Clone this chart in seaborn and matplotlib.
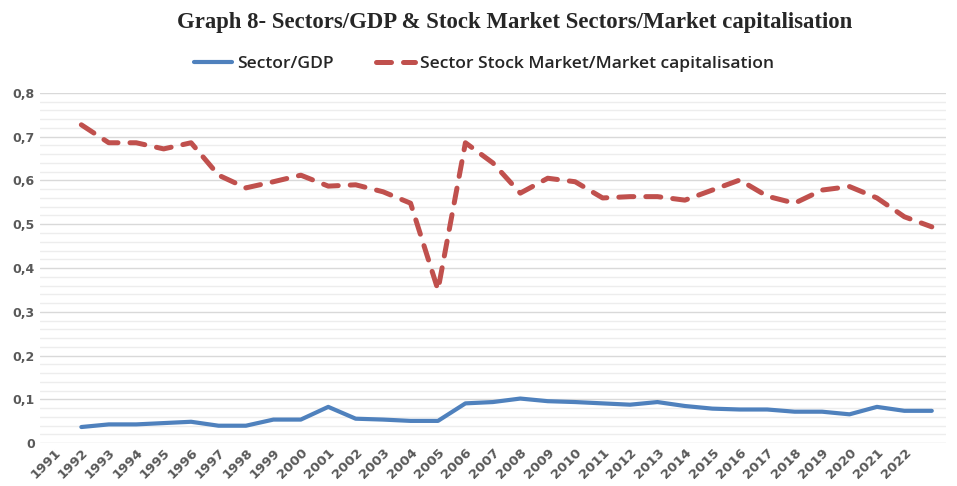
import seaborn as sns
import pandas as pd
import matplotlib.pyplot as plt
from matplotlib.ticker import MultipleLocator, FuncFormatter

# Axis labels (Excel category axis runs 1991-2022, data sits on 1992-2023)
tick_years = list(range(1991, 2023))
data_years = list(range(1992, 2024))

# Values
sector_gdp = [0.037, 0.043, 0.043, 0.046, 0.049, 0.040, 0.040, 0.054, 0.054, 0.083,
              0.056, 0.054, 0.051, 0.051, 0.091, 0.094, 0.102, 0.096, 0.094, 0.091,
              0.088, 0.094, 0.085, 0.079, 0.077, 0.077, 0.072, 0.072, 0.066, 0.083,
              0.074, 0.074]
stock_market = [0.727, 0.686, 0.686, 0.672, 0.686, 0.612, 0.583, 0.597, 0.612, 0.587,
                0.590, 0.574, 0.548, 0.350, 0.686, 0.640, 0.571, 0.605, 0.597, 0.560,
                0.563, 0.563, 0.555, 0.578, 0.601, 0.564, 0.548, 0.578, 0.586, 0.560,
                0.517, 0.494]


def main():
    df = pd.DataFrame({'year': data_years, 'Sector/GDP': sector_gdp,
                       'Sector Stock Market/Market capitalisation': stock_market})

    sns.set_style('white')
    fig, ax = plt.subplots(figsize=(9.57, 4.86), dpi=100)
    fig.subplots_adjust(left=0.042, right=0.988, bottom=0.088, top=0.809)

    sns.lineplot(data=df, x='year', y='Sector/GDP', ax=ax, color='#4F81BD',
                 linewidth=3, label='Sector/GDP', solid_capstyle='round')
    sns.lineplot(data=df, x='year', y='Sector Stock Market/Market capitalisation', ax=ax,
                 color='#C0504D', linewidth=3.6, dashes=False,
                 label='Sector Stock Market/Market capitalisation')
    red = ax.get_lines()[1]
    red.set_dashes((3.0, 2.4))
    red.set_dash_capstyle('round')

    # Axes and grid
    ax.set_xlim(1990.5, 2023.5)
    ax.set_ylim(0, 0.8)
    ax.yaxis.set_major_locator(MultipleLocator(0.1))
    ax.yaxis.set_minor_locator(MultipleLocator(0.02))
    ax.yaxis.set_major_formatter(FuncFormatter(lambda v, p: f'{v:.1f}'.replace('.', ',') if v > 0 else '0'))
    ax.grid(which='major', axis='y', color='#D9D9D9', linewidth=1)
    ax.grid(which='minor', axis='y', color='#EDEDED', linewidth=1)
    ax.set_axisbelow(True)
    for s in ax.spines.values():
        s.set_visible(False)

    ax.set_xticks(tick_years)
    ax.set_xticklabels([str(y) for y in tick_years], rotation=45, ha='right',
                       rotation_mode='anchor', fontsize=9.5, fontweight='bold', color='#595959')
    for lab in ax.get_yticklabels():
        lab.set_fontsize(9)
        lab.set_fontweight('bold')
        lab.set_color('#595959')
    ax.tick_params(axis='both', length=0, pad=4)
    ax.tick_params(axis='x', pad=2)
    ax.tick_params(axis='y', which='minor', length=0)
    ax.set_xlabel('')
    ax.set_ylabel('')

    # Legend on top
    ax.legend(loc='lower center', bbox_to_anchor=(0.49, 1.015), ncol=2, frameon=False,
              handlelength=2.2, handletextpad=0.3, columnspacing=2.4,
              prop={'family': 'Open Sans', 'weight': 'semibold', 'size': 12.6})

    fig.suptitle('Graph 8- Sectors/GDP & Stock Market Sectors/Market capitalisation',
                 x=0.538, y=0.976, fontsize=16.4, fontweight='bold', family='Liberation Serif')

    plt.savefig('out.png', dpi=100)


if __name__ == "__main__":
    main()
